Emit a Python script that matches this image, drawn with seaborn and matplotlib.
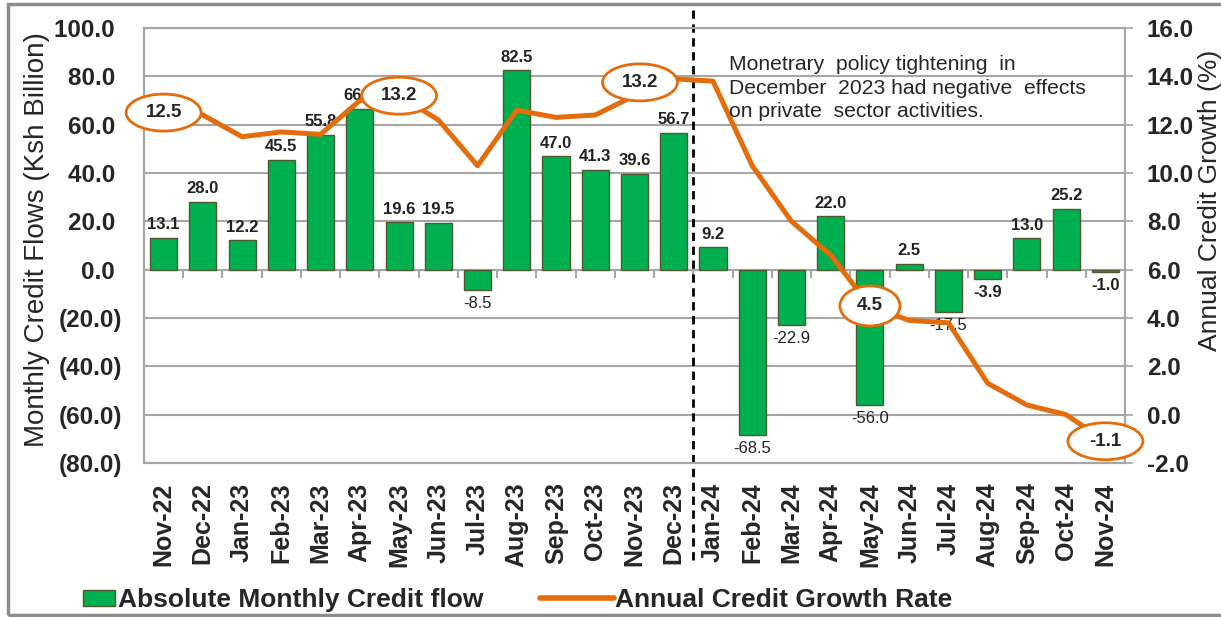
import numpy as np
import pandas as pd
import matplotlib
matplotlib.use('Agg')
import matplotlib.pyplot as plt
from matplotlib.patches import Ellipse, Rectangle, Patch
from matplotlib.lines import Line2D
import seaborn as sns

# Chart data
months = ['Nov-22', 'Dec-22', 'Jan-23', 'Feb-23', 'Mar-23', 'Apr-23', 'May-23',
          'Jun-23', 'Jul-23', 'Aug-23', 'Sep-23', 'Oct-23', 'Nov-23', 'Dec-23',
          'Jan-24', 'Feb-24', 'Mar-24', 'Apr-24', 'May-24', 'Jun-24', 'Jul-24',
          'Aug-24', 'Sep-24', 'Oct-24', 'Nov-24']
credit_flow = [13.1, 28.0, 12.2, 45.5, 55.8, 66.5, 19.6, 19.5, -8.5, 82.5, 47.0,
               41.3, 39.6, 56.7, 9.2, -68.5, -22.9, 22.0, -56.0, 2.5, -17.5,
               -3.9, 13.0, 25.2, -1.0]
growth_rate = [12.5, 12.4, 11.5, 11.7, 11.6, 13.0, 13.2, 12.2, 10.3, 12.6, 12.3,
               12.4, 13.2, 13.9, 13.8, 10.3, 8.0, 6.6, 4.5, 3.9, 3.8, 1.3, 0.4,
               0.0, -1.1]
flow_ticks = list(range(-80, 101, 20))
growth_ticks = list(range(-2, 17, 2))
# months whose growth rate gets an oval callout
callout_months = ['Nov-22', 'May-23', 'Nov-23', 'May-24', 'Nov-24']
policy_month = 'Dec-23'
note = ('Monetrary  policy tightening  in\n'
        'December  2023 had negative  effects\n'
        'on private  sector activities.')

GREEN = '#00B050'
ORANGE = '#E46C0A'
GRID = '#A6A6A6'
EDGE = '#4d5a2e'

sns.set_style('white')
plt.rcParams['font.family'] = ['Liberation Sans', 'DejaVu Sans']

W, H = 1221, 617
fig = plt.figure(figsize=(W / 100, H / 100), dpi=100)
ax = fig.add_axes([144 / W, 1 - 463 / H, 981 / W, 435 / H])

df = pd.DataFrame({'month': months, 'flow': credit_flow, 'growth': growth_rate})
df['pos'] = np.arange(len(df))

sns.barplot(data=df, x='month', y='flow', color=GREEN, saturation=1, width=0.69,
            edgecolor=EDGE, linewidth=1, ax=ax, zorder=3)
ax.set_xlim(-0.5, len(months) - 0.5)
ax.set_ylim(-80, 100)

flow_labels = [f'{v:.1f} ' if v >= 0 else f'({abs(v):.1f})' for v in flow_ticks]
ax.set_yticks(flow_ticks, labels=flow_labels, fontsize=17.5, fontweight='bold')
ax.tick_params(axis='y', length=0, pad=16)
ax.set_xticks(df['pos'], labels=months, rotation=90, fontsize=18, fontweight='bold')
ax.tick_params(axis='x', length=0, pad=14)
ax.set_xlabel('')
ax.set_ylabel('')
ax.yaxis.grid(True, color=GRID, lw=1.5)
ax.set_axisbelow(True)

# small category ticks hanging off the zero line
ax.vlines(np.arange(0.5, len(months) - 1, 1), -3.3, 0, color=GRID, lw=1.5, zorder=2)

# value labels on the bars
texts = ax.bar_label(ax.containers[0], labels=[f'{v:.1f}' for v in credit_flow],
                     padding=4, fontsize=12, color='#222222')
for t, v in zip(texts, credit_flow):
    t.set_fontweight('bold' if v > 0 or v > -5 else 'normal')

# policy change marker, between Dec-23 and Jan-24
ax.axvline(months.index(policy_month) + 0.5, ymin=-0.223, ymax=1.041, color='black',
           ls=(0, (3, 2)), lw=2, clip_on=False, zorder=4)

ax2 = ax.twinx()
sns.lineplot(data=df, x='pos', y='growth', ax=ax2, color=ORANGE, lw=3.6, zorder=5)
ax2.set_ylim(-2, 16)
ax2.set_yticks(growth_ticks, labels=[f'{v:.1f}' for v in growth_ticks],
               fontsize=17.5, fontweight='bold')
ax2.tick_params(axis='y', length=5.8, width=1.2, color=GRID, pad=10)
ax2.set_xlabel('')
ax2.set_ylabel('')

for a in (ax, ax2):
    for s in a.spines.values():
        s.set_color(GRID)
        s.set_linewidth(1.5)

# oval callouts (size in pixels -> data units)
px_x = 981 / len(months)
px_y = 435 / 18
shifts = {'Nov-23': (0.14, 0.55)}
sizes = {'May-24': (60, 40)}
for m in callout_months:
    i = months.index(m)
    dx, dy = shifts.get(m, (0, 0))
    w, h = sizes.get(m, (75, 37))
    cx, cy = i + dx, growth_rate[i] + dy
    ax2.add_patch(Ellipse((cx, cy), w / px_x, h / px_y, fc='white', ec=ORANGE,
                          lw=2, zorder=6, clip_on=False))
    ax2.text(cx, cy, f'{growth_rate[i]:.1f}', ha='center', va='center',
             fontsize=13.5, fontweight='bold', zorder=7, clip_on=False)

fig.text(729 / W, 1 - 55 / H, note, ha='left', va='top', fontsize=15.2,
         linespacing=1.3)

fig.text(37 / W, 1 - 240 / H, 'Monthly Credit Flows (Ksh Billion)', rotation=90,
         ha='center', va='center', fontsize=20)
fig.text(1210 / W, 1 - 200 / H, 'Annual Credit Growth (%)', rotation=90,
         ha='center', va='center', fontsize=19)

fig.legend(handles=[Patch(fc=GREEN, ec=EDGE)], labels=['Absolute Monthly Credit flow'],
           loc='center left', bbox_to_anchor=(83 / W, 1 - 600 / H), frameon=False,
           prop=dict(weight='bold', size=19), handlelength=1.2, handleheight=0.55,
           handletextpad=0.12, borderpad=0, borderaxespad=0)
fig.legend(handles=[Line2D([0], [0], color=ORANGE, lw=4)], labels=['Annual Credit Growth Rate'],
           loc='center left', bbox_to_anchor=(540 / W, 1 - 600 / H), frameon=False,
           prop=dict(weight='bold', size=19), handlelength=2.8,
           handletextpad=0.05, borderpad=0, borderaxespad=0)

fig.add_artist(Rectangle((8 / W, 2 / H), 1.2, 611 / H, transform=fig.transFigure,
                         fill=False, ec='#8c8c8c', lw=2.5))

fig.savefig('out.png', dpi=100)
